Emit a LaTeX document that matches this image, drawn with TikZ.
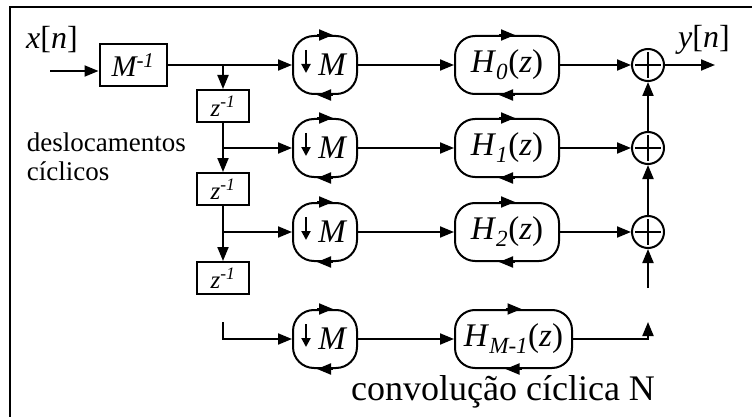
\documentclass[tikz,border=0pt]{standalone}
\usepackage{fontspec}
\setmainfont{Liberation Serif}
\usetikzlibrary{positioning,arrows.meta}

\begin{document}
\begin{tikzpicture}[
    x=1pt, y=-1pt,
    line width=2pt,
    arr/.style={-{Triangle[length=14pt,width=11pt]}},
    small/.style={-{Triangle[length=9pt,width=9pt]}},
    lbl/.style={font=\fontsize{32}{32}\selectfont},
    blk/.style={draw, inner sep=0pt, minimum width=67pt, minimum height=42pt,
                font=\fontsize{30}{30}\selectfont\itshape},
    delay/.style={draw, inner sep=0pt, minimum width=52pt, minimum height=32pt,
                  font=\fontsize{25}{25}\selectfont\itshape},
    down/.style={draw, rounded corners=21pt, inner sep=0pt, minimum width=64pt,
                 minimum height=58pt, font=\fontsize{33}{33}\selectfont\itshape},
    filt/.style={draw, rounded corners=20pt, inner sep=0pt, minimum width=104pt,
                 minimum height=58pt, font=\fontsize{33}{33}\selectfont},
    adder/.style={draw, circle, inner sep=0pt, minimum size=32pt,
                  path picture={
                    \draw[line width=1.5pt] ([shift={(-13,0)}]path picture bounding box.center)
                                         -- ([shift={(13,0)}]path picture bounding box.center);
                    \draw[line width=1.5pt] ([shift={(0,-13)}]path picture bounding box.center)
                                         -- ([shift={(0,13)}]path picture bounding box.center);}},
  ]
    \useasboundingbox (0,0) rectangle (752,417);

    % Outer frame (right and bottom fall outside the page)
    \draw (10,424) -- (10,7) -- (760,7);

    % Input and cyclic shift chain
    \node[lbl] (xin) at (52,40) {\textit{x}[\textit{n}]};
    \coordinate (in) at (50,71);
    \node[blk] (minv) at (133,65) {M\textsuperscript{-1}};
    \node[delay] (z1) at (223,106) {z\textsuperscript{-1}};
    \node[delay] (z2) at (223,189) {z\textsuperscript{-1}};
    \node[delay] (z3) at (223,278) {z\textsuperscript{-1}};
    \node[font=\fontsize{27}{29}\selectfont, align=left, anchor=west, inner sep=0pt]
        (shift) at (26,157) {deslocamentos\\cíclicos};

    % Downsamplers
    \node[down] (m0) at (325,65)  {\hspace{14pt}M};
    \node[down] (m1) at (325,148) {\hspace{14pt}M};
    \node[down] (m2) at (325,232) {\hspace{14pt}M};
    \node[down] (m3) at (325,339) {\hspace{14pt}M};

    % Polyphase filters
    \node[filt, right=96pt of m0] (h0) {\textit{H}\textsubscript{\textit{0}}(\textit{z})};
    \node[filt, right=96pt of m1] (h1) {\textit{H}\textsubscript{\textit{1}}(\textit{z})};
    \node[filt, right=96pt of m2] (h2) {\textit{H}\textsubscript{\textit{2}}(\textit{z})};
    \node[filt, right=96pt of m3, minimum width=117pt] (h3)
        {\textit{H}\textsubscript{\textit{M-1}}(\textit{z})};

    % Adders and output
    \node[adder] (add0) at (648,65)  {};
    \node[adder] (add1) at (648,148) {};
    \node[adder] (add2) at (648,232) {};
    \coordinate (yout) at (715,65);
    \node[lbl] (ylbl) at (704,40) {\textit{y}[\textit{n}]};
    \coordinate (gap) at (648,288);
    \coordinate (last) at (648,322);
    \coordinate (first) at (223,322);

    \node[font=\fontsize{36}{36}\selectfont] (conv) at (503,392) {convolução cíclica N};

    % Connections
    \draw[arr] (in) -- (in -| minv.west);
    \draw[arr] (minv.east) -- (m0.west);
    \draw[arr] (z1 |- m0) -- (z1.north);
    \draw[arr] (z1.south) -- (z2.north);
    \draw[arr] (z2.south) -- (z3.north);
    \draw[arr] (z1 |- m1) -- (m1.west);
    \draw[arr] (z2 |- m2) -- (m2.west);
    \draw[arr] (first) |- (m3.west);

    \draw[arr] (m0.east) -- (h0.west);
    \draw[arr] (m1.east) -- (h1.west);
    \draw[arr] (m2.east) -- (h2.west);
    \draw[arr] (m3.east) -- (h3.west);

    \draw[arr] (h0.east) -- (add0.west);
    \draw[arr] (h1.east) -- (add1.west);
    \draw[arr] (h2.east) -- (add2.west);
    \draw[arr] (h3.east) -| (last);
    \draw[arr] (add1) -- (add0);
    \draw[arr] (add2) -- (add1);
    \draw[arr] (gap) -- (add2.south);
    \draw[arr] (add0.east) -- (yout);

    % Cyclic arrows on the blocks
    \foreach \b in {m0,m1,m2,m3,h0,h1,h2,h3} {
        \draw[arr] ([shift={(-8,0)}]\b.north) -- ([shift={(8,0)}]\b.north);
        \draw[arr] ([shift={(8,0)}]\b.south) -- ([shift={(-8,0)}]\b.south);
    }
    \foreach \b in {m0,m1,m2,m3}
        \draw[small] ([shift={(-19,-15)}]\b.center) -- ([shift={(-19,8)}]\b.center);
\end{tikzpicture}
\end{document}
